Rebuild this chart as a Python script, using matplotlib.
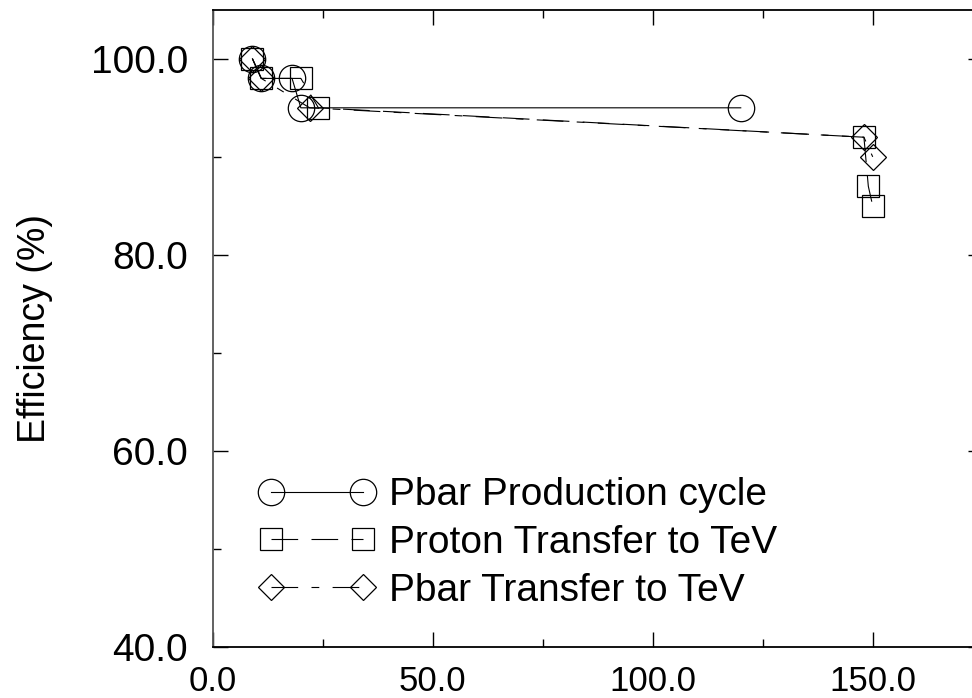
import matplotlib.pyplot as plt

# Efficiency data
prod_x = [9, 11, 18, 20, 120]
prod_y = [100, 98, 98, 95, 95]

proton_x = [9, 11, 20, 24, 148, 149, 150]
proton_y = [100, 98, 98, 95, 92, 87, 85]

pbar_x = [9, 11, 22, 148, 150]
pbar_y = [100, 98, 95, 92, 90]

labels = ["Pbar Production cycle", "Proton Transfer to TeV", "Pbar Transfer to TeV"]

x_ticks = [0, 50, 100, 150]
y_ticks = [40, 60, 80, 100]

plt.rcParams['font.family'] = ['Liberation Sans', 'DejaVu Sans']

fig = plt.figure(figsize=(9.72, 6.98), dpi=100)
# right edge of the frame sits just outside the picture, as in the original
ax = fig.add_axes([0.219, 0.073, 0.792, 0.913])

ax.plot(prod_x, prod_y, color='black', lw=0.8, linestyle='-',
        marker='o', markersize=19, markerfacecolor='none', markeredgewidth=0.9,
        label=labels[0])
ax.plot(proton_x, proton_y, color='black', lw=0.8, linestyle=(0, (24, 12)),
        marker='s', markersize=16.5, markerfacecolor='none', markeredgewidth=0.9,
        label=labels[1])
ax.plot(pbar_x, pbar_y, color='black', lw=0.8, linestyle=(0, (24, 12, 7, 12)),
        marker='D', markersize=13.5, markerfacecolor='none', markeredgewidth=0.9,
        label=labels[2])

ax.set_xlim(0, 175)
ax.set_ylim(40, 105)
ax.set_xticks(x_ticks)
ax.set_xticklabels([f"{v:.1f}" for v in x_ticks])
ax.set_yticks(y_ticks)
ax.set_yticklabels([f"{v:.1f}" for v in y_ticks])
ax.set_xticks([25, 75, 125], minor=True)
ax.set_yticks([50, 70, 90], minor=True)

ax.tick_params(which='both', direction='in', top=True, right=True)
ax.tick_params(which='major', length=11, width=1)
ax.tick_params(which='minor', length=5.5, width=1)
ax.tick_params(axis='y', which='both', labelsize=28, pad=18)
ax.tick_params(axis='x', which='both', labelsize=25, pad=13)

ax.set_ylabel("Efficiency (%)", fontsize=27, labelpad=27)

for s in ax.spines.values():
    s.set_linewidth(1.3)
ax.spines['left'].set_color('#555555')

leg = ax.legend(loc='lower left', bbox_to_anchor=(0.04, 0.036), fontsize=28,
                frameon=False, numpoints=2, handlelength=2.96,
                handletextpad=0.38, labelspacing=0.3, borderaxespad=0)

fig.savefig("out.png", dpi=100)
